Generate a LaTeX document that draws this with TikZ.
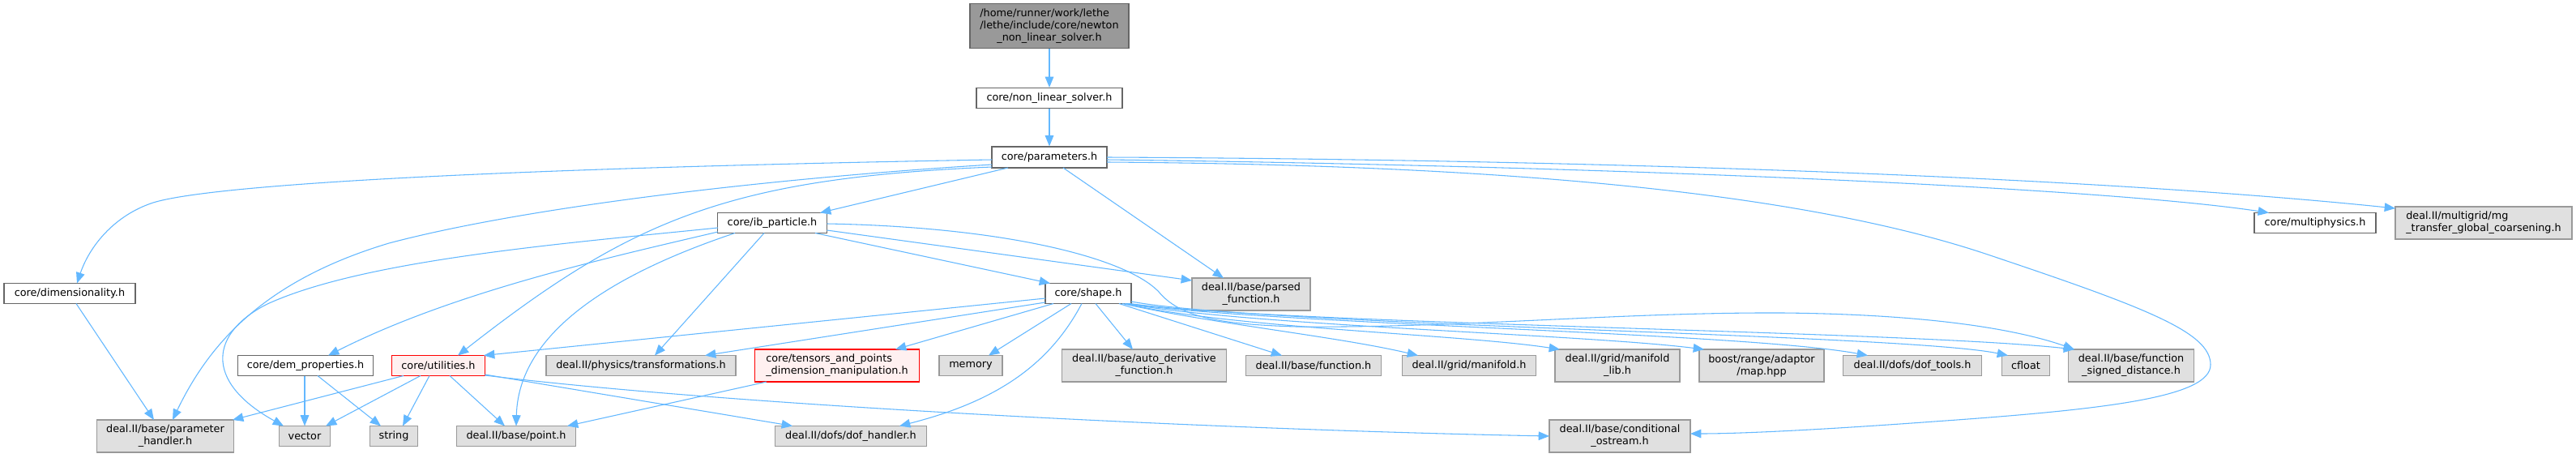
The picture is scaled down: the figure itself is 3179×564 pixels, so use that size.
\documentclass[tikz,border=0pt]{standalone}
\usepackage{fontspec}
\usepackage{calc}
\setmainfont{DejaVu Sans}
\usetikzlibrary{arrows.meta}
\definecolor{edgecol}{HTML}{63B8FF}
\definecolor{wborder}{HTML}{666666}
\definecolor{gborder}{HTML}{999999}
\definecolor{gfill}{HTML}{E0E0E0}
\definecolor{rfill}{HTML}{FFF0F0}
\definecolor{rborder}{HTML}{FF0000}
\definecolor{topfill}{HTML}{999999}
\newcommand{\padl}[2]{\makebox[\widthof{#2}][l]{#1}}
\tikzset{
  nbase/.style={rectangle, inner sep=1.5pt, line width=0.9pt, font=\fontsize{9.6}{11.3}\selectfont, align=center},
  wbox/.style={nbase, draw=wborder, fill=white},
  gbox/.style={nbase, draw=gborder, fill=gfill},
  rbox/.style={nbase, draw=rborder, fill=rfill},
  topbox/.style={nbase, draw=wborder, fill=topfill},
  bw/.style={minimum width=#1*0.75pt},
  bh/.style={minimum height=#1*0.75pt},
  dep/.style={draw=edgecol, line width=0.8pt, -{Triangle[length=10pt,width=8pt]}}
}
\begin{document}
\begin{tikzpicture}[x=0.75pt,y=-0.75pt]
\fill[white] (0,0) rectangle (3179,564);
\useasboundingbox (0,0) rectangle (3179,564);
% nodes
\node[topbox,bw=196,bh=55] (top) at (1295,32) {\padl{/home/runner/work/lethe}{/lethe/include/core/newton}\\/lethe/include/core/newton\\\_non\_linear\_solver.h};
\node[wbox,bw=180,bh=25] (nls) at (1295,121) {core/non\_linear\_solver.h};
\node[wbox,bw=142,bh=26] (params) at (1295,194) {core/parameters.h};
\node[wbox,bw=135,bh=25] (ib) at (953,275) {core/ib\_particle.h};
\node[wbox,bw=150,bh=25] (mphys) at (2857,275) {core/multiphysics.h};
\node[gbox,bw=218,bh=40,align=left] (mg) at (3065,275) {deal.II/multigrid/mg\\\_transfer\_global\_coarsening.h};
\node[wbox,bw=162,bh=25] (dim) at (86,362) {core/dimensionality.h};
\node[wbox,bw=106,bh=25] (shape) at (1343,362) {core/shape.h};
\node[gbox,bw=146,bh=40] (parsed) at (1544,363) {deal.II/base/parsed\\\_function.h};
\node[wbox,bw=167,bh=25] (dem) at (377,451) {core/dem\_properties.h};
\node[rbox,bw=115,bh=25] (util) at (541,451) {core/utilities.h};
\node[gbox,bw=234,bh=25] (phys) at (791,451) {deal.II/physics/transformations.h};
\node[rbox,bw=203,bh=40,align=left] (tens) at (1033,451) {core/tensors\_and\_points\\\_dimension\_manipulation.h};
\node[gbox,bw=78,bh=25] (mem) at (1198,451) {memory};
\node[gbox,bw=203,bh=40] (auto) at (1412,451) {deal.II/base/auto\_derivative\\\_function.h};
\node[gbox,bw=167,bh=25] (func) at (1621,451) {deal.II/base/function.h};
\node[gbox,bw=165,bh=25] (mani) at (1813,451) {deal.II/grid/manifold.h};
\node[gbox,bw=154,bh=40] (manilib) at (1996,451) {deal.II/grid/manifold\\\_lib.h};
\node[gbox,bw=154,bh=40] (boost) at (2174,451) {boost/range/adaptor\\/map.hpp};
\node[gbox,bw=171,bh=25] (doft) at (2360,451) {deal.II/dofs/dof\_tools.h};
\node[gbox,bw=59,bh=25] (cfloat) at (2500,451) {cfloat};
\node[gbox,bw=155,bh=40] (fsd) at (2630,451) {deal.II/base/function\\\_signed\_distance.h};
\node[gbox,bw=169,bh=40] (ph) at (204,538) {deal.II/base/parameter\\\_handler.h};
\node[gbox,bw=63,bh=25] (vec) at (376,538) {vector};
\node[gbox,bw=59,bh=25] (str) at (486,538) {string};
\node[gbox,bw=147,bh=25] (pt) at (637,538) {deal.II/base/point.h};
\node[gbox,bw=187,bh=25] (dofh) at (1050,538) {deal.II/dofs/dof\_handler.h};
\node[gbox,bw=174,bh=40] (cond) at (1999,538) {deal.II/base/conditional\\\_ostream.h};
% edges
\draw[dep] (top.south) -- (nls.north);
\draw[dep] (nls.south) -- (params.north);
\draw[dep] ([shift={(-71,3)}]params.center) .. controls (600,208) and (260,228) .. (189,250) .. controls (140,266) and (110,305) .. ([shift={(9,-12.5)}]dim.center);
\draw[dep] ([shift={(-71,9)}]params.center) .. controls (950,220) and (650,255) .. (480,300) .. controls (330,345) and (260,420) .. ([shift={(9,-20)}]ph.center);
\draw[dep] ([shift={(-71,12)}]params.center) .. controls (900,220) and (780,270) .. ([shift={(24,-12.5)}]util.center);
\draw[dep] ([shift={(-51,13)}]params.center) -- ([shift={(59,-12.5)}]ib.center);
\draw[dep] ([shift={(17,13)}]params.center) -- ([shift={(-34,-20)}]parsed.center);
\draw[dep] ([shift={(71,0)}]params.center) .. controls (2000,197) and (2600,220) .. ([shift={(-109,-18)}]mg.center);
\draw[dep] ([shift={(71,3)}]params.center) .. controls (2000,205) and (2600,232) .. ([shift={(-57,-12.5)}]mphys.center);
\draw[dep] ([shift={(71,6)}]params.center) .. controls (1800,203) and (2200,230) .. (2450,313) .. controls (2650,380) and (2728,410) .. (2728,450) .. controls (2728,490) and (2600,505) .. (2387,520) .. controls (2250,530) and (2150,535) .. ([shift={(87,-3)}]cond.center);
% ib_particle
\draw[dep] ([shift={(-67,11)}]ib.center) .. controls (750,318) and (560,360) .. ([shift={(28,-12.5)}]dem.center);
\draw[dep] ([shift={(-67,6)}]ib.center) .. controls (700,300) and (450,320) .. (330,375) .. controls (260,410) and (250,470) .. ([shift={(-26,-12.5)}]vec.center);
\draw[dep] ([shift={(-46,12.5)}]ib.center) .. controls (780,330) and (640,400) .. ([shift={(0,-12.5)}]pt.center);
\draw[dep] ([shift={(-10,12.5)}]ib.center) -- ([shift={(17,-12.5)}]phys.center);
\draw[dep] ([shift={(53,12.5)}]ib.center) -- ([shift={(-47,-12.5)}]shape.center);
\draw[dep] ([shift={(67.5,9)}]ib.center) -- ([shift={(-73,-17)}]parsed.center);
\draw[dep] ([shift={(67.5,1)}]ib.center) .. controls (1240,280) and (1390,318) .. (1430,360) .. controls (1455,390) and (1500,400) .. (1600,403) .. controls (1800,405) and (2000,385) .. (2200,386) .. controls (2400,388) and (2500,410) .. ([shift={(-70,-20)}]fsd.center);
% shape
\draw[dep] ([shift={(-53,6)}]shape.center) -- ([shift={(56,-12.5)}]util.center);
\draw[dep] ([shift={(-53,11)}]shape.center) -- ([shift={(79,-12.5)}]phys.center);
\draw[dep] ([shift={(-43,12.5)}]shape.center) -- ([shift={(72,-20)}]tens.center);
\draw[dep] ([shift={(-21,12.5)}]shape.center) -- ([shift={(22,-12.5)}]mem.center);
\draw[dep] ([shift={(-8,12.5)}]shape.center) .. controls (1295,450) and (1230,495) .. ([shift={(60,-12.5)}]dofh.center);
\draw[dep] ([shift={(9,12.5)}]shape.center) -- ([shift={(-14,-20)}]auto.center);
\draw[dep] ([shift={(38,12.5)}]shape.center) -- ([shift={(-39,-12.5)}]func.center);
\draw[dep] ([shift={(42,12.5)}]shape.center) .. controls (1500,400) and (1650,415) .. ([shift={(-63,-12.5)}]mani.center);
\draw[dep] ([shift={(45,12.5)}]shape.center) .. controls (1520,405) and (1800,412) .. ([shift={(-71,-20)}]manilib.center);
\draw[dep] ([shift={(47,12.5)}]shape.center) .. controls (1540,402) and (1950,412) .. ([shift={(-71,-20)}]boost.center);
\draw[dep] ([shift={(49,12.5)}]shape.center) .. controls (1560,400) and (2150,410) .. ([shift={(-55,-12.5)}]doft.center);
\draw[dep] ([shift={(53,10)}]shape.center) .. controls (1560,402) and (2350,412) .. ([shift={(-22,-12.5)}]cfloat.center);
\draw[dep] ([shift={(51,12.5)}]shape.center) .. controls (1580,400) and (2350,408) .. ([shift={(-70,-20)}]fsd.center);
% utilities
\draw[dep] ([shift={(-43,12.5)}]util.center) -- ([shift={(83,-20)}]ph.center);
\draw[dep] ([shift={(-22,12.5)}]util.center) -- ([shift={(26,-12.5)}]vec.center);
\draw[dep] ([shift={(-11,12.5)}]util.center) -- ([shift={(11,-12.5)}]str.center);
\draw[dep] ([shift={(14,12.5)}]util.center) -- ([shift={(-14,-12.5)}]pt.center);
\draw[dep] ([shift={(57.5,11)}]util.center) -- ([shift={(-72,-12.5)}]dofh.center);
\draw[dep] ([shift={(57.5,12)}]util.center) .. controls (900,500) and (1500,530) .. ([shift={(-87,0)}]cond.center);
% others
\draw[dep] ([shift={(-87,20)}]tens.center) -- ([shift={(63,-12.5)}]pt.center);
\draw[dep] ([shift={(-1,12.5)}]dem.center) -- ([shift={(0,-12.5)}]vec.center);
\draw[dep] ([shift={(15,12.5)}]dem.center) -- ([shift={(-16,-12.5)}]str.center);
\draw[dep] ([shift={(8,12.5)}]dim.center) -- ([shift={(-14,-20)}]ph.center);
\end{tikzpicture}
\end{document}
